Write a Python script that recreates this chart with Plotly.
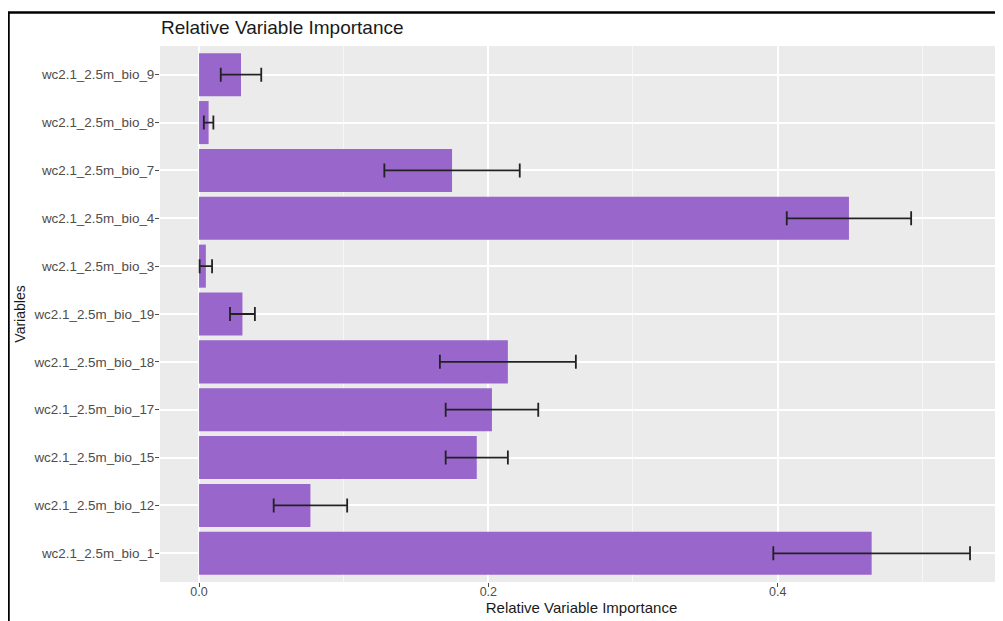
import plotly.graph_objects as go

# Categories listed bottom -> top (ggplot alphabetical order)
variables = [
    "wc2.1_2.5m_bio_1", "wc2.1_2.5m_bio_12", "wc2.1_2.5m_bio_15",
    "wc2.1_2.5m_bio_17", "wc2.1_2.5m_bio_18", "wc2.1_2.5m_bio_19",
    "wc2.1_2.5m_bio_3", "wc2.1_2.5m_bio_4", "wc2.1_2.5m_bio_7",
    "wc2.1_2.5m_bio_8", "wc2.1_2.5m_bio_9",
]
importance = [0.465, 0.077, 0.192, 0.2025, 0.2135, 0.030, 0.0047, 0.4493, 0.1749, 0.0066, 0.029]
importance_sd = [0.068, 0.0254, 0.0215, 0.032, 0.047, 0.0086, 0.0043, 0.043, 0.0468, 0.0033, 0.014]
x_ticks = [0.0, 0.2, 0.4]
x_tick_labels = ["0.0", "0.2", "0.4"]

# the page body adds an 8px offset; work in figure pixels = reference pixels - 8
OFF = 8
W, H = 1003 - OFF, 621 - OFF
L, R, T = 160 - OFF, 0, 46 - OFF
B = H - (582 - OFF)
pw, ph = W - L - R, H - T - B

def px_x(p):
    return (p - OFF - L) / pw

def px_y(p):
    return (H - B - (p - OFF)) / ph

fig = go.Figure()
fig.add_trace(go.Bar(
    y=variables,
    x=importance,
    orientation="h",
    width=0.9,
    marker=dict(color="#9966CC", line=dict(width=0)),
    error_x=dict(type="data", array=importance_sd, visible=True,
                 color="#222222", thickness=1.8, width=7),
    showlegend=False,
))

font_family = "Liberation Sans, Arial, sans-serif"

fig.update_layout(
    width=W, height=H,
    margin=dict(l=L, r=R, t=T, b=B, pad=0),
    paper_bgcolor="white",
    plot_bgcolor="#EBEBEB",
    font=dict(family=font_family, color="#4D4D4D"),
    title=dict(text="Relative Variable Importance", x=(161 - OFF) / W, xanchor="left",
               xref="container", y=1 - (27 - OFF) / H, yanchor="middle", yref="container",
               font=dict(size=19, color="#1a1a1a", family=font_family)),
    bargap=0.1,
)

fig.update_xaxes(
    range=[-0.027, 0.5558],
    tickvals=x_ticks, ticktext=x_tick_labels,
    showgrid=True, gridcolor="white", gridwidth=1.6,
    minor=dict(dtick=0.1, tick0=0, showgrid=True, gridcolor="#F7F7F7", gridwidth=0.8, ticks=""),
    zeroline=False, showline=False,
    ticks="outside", ticklen=4, tickcolor="#4D4D4D", tickwidth=1,
    ticklabelstandoff=-6,
    tickfont=dict(size=12.5, color="#4D4D4D"),
    title=dict(text="Relative Variable Importance", standoff=2,
               font=dict(size=15, color="#1a1a1a")),
)

fig.update_yaxes(
    categoryorder="array", categoryarray=variables,
    range=[-0.6, 10.6],
    showgrid=True, gridcolor="white", gridwidth=1.6,
    zeroline=False, showline=False,
    ticks="outside", ticklen=4, tickcolor="#4D4D4D", tickwidth=1,
    ticklabelstandoff=-2,
    tickfont=dict(size=13.4, color="#4D4D4D"),
    title=dict(text="Variables", standoff=4,
               font=dict(size=14, color="#1a1a1a")),
)

# Black frame around the screenshot (top and left visible)
fig.add_shape(type="line", xref="paper", yref="paper",
              x0=px_x(7), x1=px_x(1010), y0=px_y(12.5), y1=px_y(12.5),
              line=dict(color="black", width=2.5))
fig.add_shape(type="line", xref="paper", yref="paper",
              x0=px_x(8.5), x1=px_x(8.5), y0=px_y(12), y1=px_y(630),
              line=dict(color="black", width=2.5))

fig.write_html("out.html")
